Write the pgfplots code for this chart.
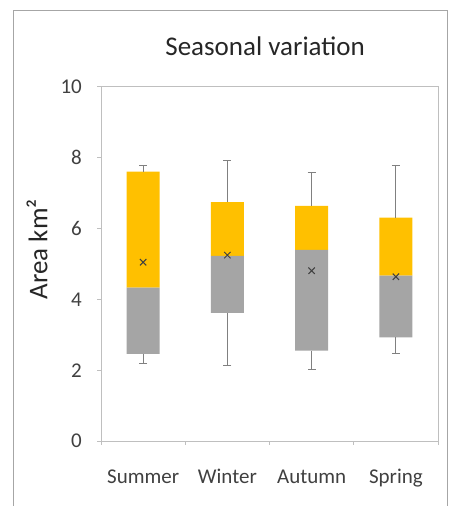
\documentclass[border=0pt]{standalone}
\usepackage{pgfplots}
\pgfplotsset{compat=1.18}
\usepackage{pgfplotstable}
\usepackage{fontspec}
\setmainfont{Carlito}
\definecolor{boxorange}{HTML}{FFC000}
\definecolor{boxgray}{HTML}{A5A5A5}
\definecolor{whisk}{HTML}{808080}
\definecolor{txt}{HTML}{404040}
\definecolor{framec}{HTML}{A6A6A6}
\definecolor{axisgray}{HTML}{BFBFBF}

\pgfplotstableread{
x q1 med q3 min max mean
1 2.46 4.33 7.61 2.18 7.78 5.05
2 3.62 5.23 6.75 2.14 7.92 5.25
3 2.55 5.40 6.64 2.03 7.59 4.81
4 2.93 4.67 6.31 2.47 7.77 4.64
}\data

\pgfplotsset{geom/.style={
  at={(101pt,65pt)}, anchor=south west,
  scale only axis, width=337pt, height=354pt,
  xmin=0.5, xmax=4.5, ymin=0, ymax=10}}

\begin{document}
\begin{tikzpicture}
\useasboundingbox (0,0) rectangle (456pt,506pt);
\draw[framec, line width=1pt] (13pt,0pt) -- (13pt,495pt) -- (447pt,495pt) -- (447pt,0pt);
\begin{axis}[
  geom,
  ybar stacked, bar width=33pt,
  axis line style={axisgray, line width=1pt},
  xtick={1,2,3,4}, xticklabels={Summer,Winter,Autumn,Spring},
  minor xtick={0.5,1.5,2.5,3.5,4.5},
  ytick={0,2,4,6,8,10},
  tick align=outside, tick pos=left,
  major x tick style={draw=none},
  minor x tick style={axisgray, line width=1pt},
  ytick style={axisgray, line width=1pt},
  major tick length=4pt, minor tick length=4pt,
  /pgf/number format/assume math mode=true,
  tick label style={font=\fontsize{21}{21}\selectfont, text=txt},
  xticklabel style={anchor=base, yshift=-38pt},
  yticklabel style={anchor=east, inner sep=0pt, xshift=-15pt},
  title={Seasonal variation},
  title style={font=\fontsize{27}{27}\selectfont, text=black!85, at={(axis description cs:0.487,1.073)}, anchor=base},
  ylabel={Area km²},
  ylabel style={font=\fontsize{27}{27}\selectfont, text=black!85, at={(axis description cs:-0.19,0.542)}, anchor=center},
]
\addplot[draw=none, fill=none] table[x=x, y=q1] {\data};
\addplot[draw=none, fill=boxgray] table[x=x, y expr=\thisrow{med}-\thisrow{q1}] {\data};
\addplot[draw=none, fill=boxorange] table[x=x, y expr=\thisrow{q3}-\thisrow{med}] {\data};
\end{axis}
\begin{axis}[
  geom, hide axis,
]
\addplot[draw=none, mark=none, error bars/.cd, y dir=minus, y explicit,
  error bar style={whisk, line width=1pt},
  error mark options={rotate=90, whisk, mark size=4pt, line width=1pt}]
  table[x=x, y=q1, y error minus expr=\thisrow{q1}-\thisrow{min}] {\data};
\addplot[draw=none, mark=none, error bars/.cd, y dir=plus, y explicit,
  error bar style={whisk, line width=1pt},
  error mark options={rotate=90, whisk, mark size=4pt, line width=1pt}]
  table[x=x, y=q3, y error plus expr=\thisrow{max}-\thisrow{q3}] {\data};
\addplot[only marks, mark=x, mark size=4.5pt, mark options={txt, line width=1pt}] table[x=x, y=mean] {\data};
\end{axis}
\end{tikzpicture}
\end{document}
